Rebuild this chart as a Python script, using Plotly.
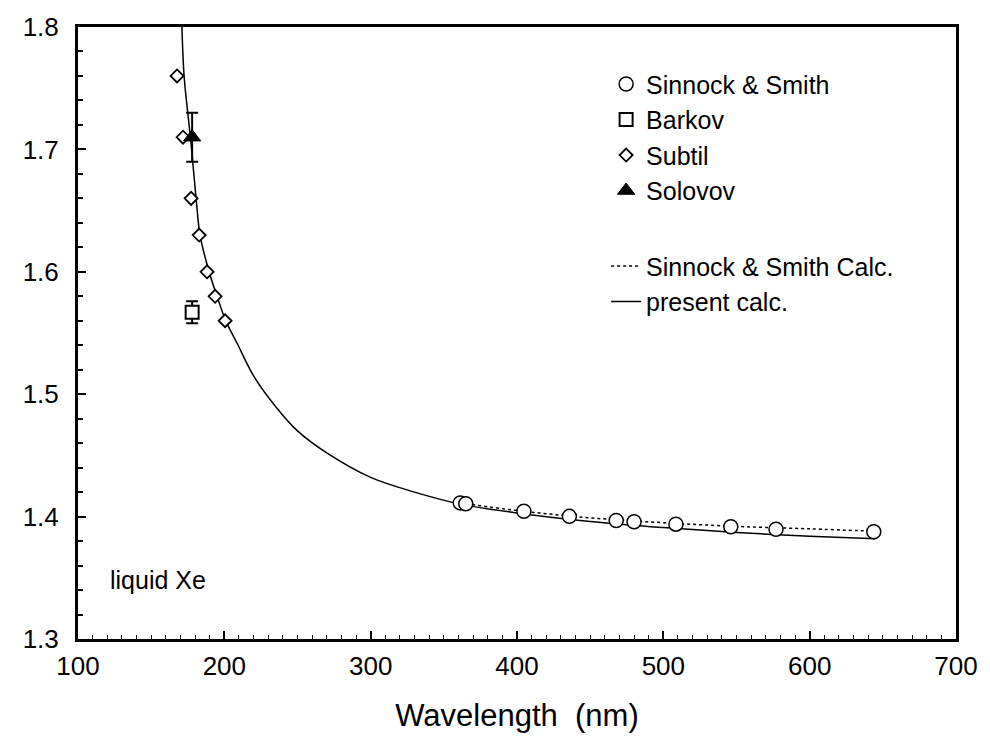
import plotly.graph_objects as go

# ---- data ----
ss_wl = [361.2, 365.0, 404.7, 435.8, 467.8, 480.0, 508.6, 546.1, 577.0, 643.8]
ss_n = [1.4112, 1.4105, 1.4044, 1.4002, 1.3968, 1.3958, 1.3938, 1.3917, 1.3897, 1.3876]

barkov_wl = [178.0]
barkov_n = [1.567]
barkov_err = [0.009]

subtil_wl = [167.7, 171.8, 177.3, 182.8, 188.2, 193.7, 200.5]
subtil_n = [1.760, 1.710, 1.660, 1.630, 1.600, 1.580, 1.560]

solovov_wl = [178.0]
solovov_n = [1.710]
solovov_err = [0.020]

sscalc_wl = [361.2, 400.0, 450.0, 500.0, 550.0, 600.0, 645.0]
sscalc_n = [1.4112, 1.4050, 1.3990, 1.3950, 1.3920, 1.3900, 1.3880]

pres_wl = [171.0, 172.5, 175.0, 177.0, 180.7, 183.4, 189.6, 195.0, 201.0, 209.0,
           220.0, 235.0, 250.0, 270.0, 300.0, 330.0, 362.0, 400.0, 450.0, 500.0,
           550.0, 600.0, 645.0]
pres_n = [1.800, 1.760, 1.730, 1.708, 1.660, 1.630, 1.600, 1.580, 1.560, 1.541,
          1.515, 1.490, 1.470, 1.452, 1.432, 1.420, 1.410, 1.403, 1.396, 1.391,
          1.387, 1.384, 1.382]

FONT = "Liberation Sans, Arial, sans-serif"

fig = go.Figure()

fig.add_trace(go.Scatter(
    x=pres_wl, y=pres_n, mode="lines", name="present calc.",
    line=dict(color="black", width=1.5, shape="spline"),
    legendgroup="calc", legendrank=6))
fig.add_trace(go.Scatter(
    x=sscalc_wl, y=sscalc_n, mode="lines", name="Sinnock & Smith Calc.",
    line=dict(color="black", width=1.5, dash="dot", shape="spline"),
    legendgroup="calc", legendrank=5))

fig.add_trace(go.Scatter(
    x=ss_wl, y=ss_n, mode="markers", name="Sinnock & Smith",
    marker=dict(symbol="circle", size=14, color="white",
                line=dict(color="black", width=1.5)),
    legendgroup="data", legendrank=1))
fig.add_trace(go.Scatter(
    x=barkov_wl, y=barkov_n, mode="markers", name="Barkov",
    marker=dict(symbol="square", size=13, color="white",
                line=dict(color="black", width=2)),
    error_y=dict(type="data", array=barkov_err, color="black",
                 thickness=2, width=6),
    legendgroup="data", legendrank=2))
fig.add_trace(go.Scatter(
    x=subtil_wl, y=subtil_n, mode="markers", name="Subtil",
    marker=dict(symbol="diamond", size=10, color="white",
                line=dict(color="black", width=1.8)),
    legendgroup="data", legendrank=3))
fig.add_trace(go.Scatter(
    x=solovov_wl, y=solovov_n, mode="markers", name="Solovov",
    marker=dict(symbol="triangle-up", size=15, color="black",
                line=dict(color="black", width=1)),
    error_y=dict(type="data", array=solovov_err, color="black",
                 thickness=2, width=6),
    legendgroup="data", legendrank=4))

fig.add_annotation(x=120.5, y=1.348, xref="x", yref="y", text="liquid Xe",
                   showarrow=False, xanchor="left", yanchor="middle",
                   font=dict(family=FONT, size=25, color="black"))

fig.update_layout(
    width=990, height=740,
    margin=dict(l=78, r=26, t=17, b=101),
    paper_bgcolor="white", plot_bgcolor="white",
    font=dict(family=FONT, color="black"),
    showlegend=True,
    legend=dict(x=0.6015, y=0.944, xanchor="left", yanchor="top",
                traceorder="grouped", tracegroupgap=40,
                font=dict(family=FONT, size=25, color="black"),
                bgcolor="rgba(0,0,0,0)"),
    xaxis=dict(range=[100, 700], dtick=100, tick0=100,
               showgrid=False, zeroline=False,
               showline=True, linecolor="black", linewidth=3, mirror=True,
               ticks="inside", ticklen=8, tickwidth=1.5, tickcolor="black",
               minor=dict(dtick=10, ticks="inside", ticklen=4, tickwidth=1,
                          tickcolor="black", showgrid=False),
               tickfont=dict(family=FONT, size=26, color="black"),
               ticklabelstandoff=2,
               title=dict(text="Wavelength  (nm)", standoff=25,
                          font=dict(family=FONT, size=31, color="black"))),
    yaxis=dict(range=[1.3, 1.8], dtick=0.1, tick0=1.3, tickformat=".1f",
               showgrid=False, zeroline=False,
               showline=True, linecolor="black", linewidth=3, mirror=True,
               ticks="inside", ticklen=8, tickwidth=2, tickcolor="black",
               minor=dict(dtick=0.02, ticks="inside", ticklen=5, tickwidth=1.5,
                          tickcolor="black", showgrid=False),
               tickfont=dict(family=FONT, size=26, color="black"),
               ticklabelstandoff=11),
)

fig.write_html("out.html")
